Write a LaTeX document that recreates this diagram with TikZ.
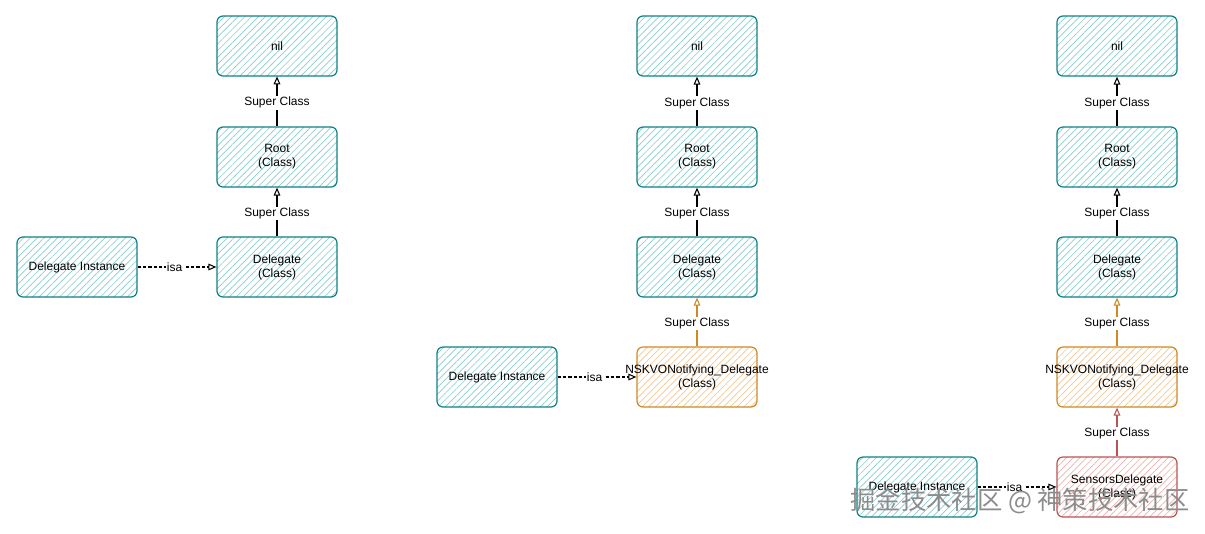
\documentclass[tikz,border=0pt]{standalone}
\usepackage{fontspec}
\setmainfont{Liberation Sans}
\newfontfamily\cjkfont{Noto Sans CJK SC}
\usetikzlibrary{patterns.meta}
\usetikzlibrary{arrows.meta}

\definecolor{tealline}{HTML}{0E8088}
\definecolor{tealhatch}{HTML}{86CDD1}
\definecolor{orangeline}{HTML}{CC8A24}
\definecolor{orangehatch}{HTML}{F3C690}
\definecolor{redline}{HTML}{B85450}
\definecolor{redhatch}{HTML}{EDB0AD}
\definecolor{markgray}{HTML}{8C8C8C}

\tikzset{
  classbox/.style={draw=tealline, line width=0.9pt, rounded corners=4.5pt,
    pattern={Lines[angle=45,distance=3.6pt,line width=0.5pt]}, pattern color=tealhatch,
    minimum width=90pt, minimum height=45pt, inner sep=1pt, align=center,
    font=\fontsize{9}{10.5}\selectfont},
  kvobox/.style={classbox, draw=orangeline, pattern color=orangehatch},
  sensorbox/.style={classbox, draw=redline, pattern color=redhatch},
  superarrow/.style={-{Triangle[open,length=6pt,width=5pt]}, line width=0.8pt},
  isaarrow/.style={superarrow, dash pattern=on 2.5pt off 1.5pt},
  edgelabel/.style={fill=white, inner sep=1pt, pos=0.47, font=\fontsize{9}{10.5}\selectfont}
}

\begin{document}
\begin{tikzpicture}[x=0.75pt,y=0.75pt,yscale=-1,xscale=1]
\useasboundingbox (0,0) rectangle (1205,533);

%Column 1
\node[classbox] (nilA) at (277,46) {nil};
\node[classbox] (rootA) at (277,157) {Root\\(Class)};
\node[classbox] (delA) at (277,267) {Delegate\\(Class)};
\node[classbox] (instA) at (77,267) {Delegate Instance};
\draw[superarrow] (rootA) -- node[edgelabel] {Super Class} (nilA);
\draw[superarrow] (delA) -- node[edgelabel] {Super Class} (rootA);
\draw[isaarrow] (instA) -- node[edgelabel] {isa} (delA);

%Column 2
\node[classbox] (nilB) at (697,46) {nil};
\node[classbox] (rootB) at (697,157) {Root\\(Class)};
\node[classbox] (delB) at (697,267) {Delegate\\(Class)};
\node[kvobox] (kvoB) at (697,377) {\makebox[0pt]{NSKVONotifying\_Delegate}\\(Class)};
\node[classbox] (instB) at (497,377) {Delegate Instance};
\draw[superarrow] (rootB) -- node[edgelabel] {Super Class} (nilB);
\draw[superarrow] (delB) -- node[edgelabel] {Super Class} (rootB);
\draw[superarrow, orangeline] (kvoB) -- node[edgelabel, text=black] {Super Class} (delB);
\draw[isaarrow] (instB) -- node[edgelabel] {isa} (kvoB);

%Column 3
\node[classbox] (nilC) at (1117,46) {nil};
\node[classbox] (rootC) at (1117,157) {Root\\(Class)};
\node[classbox] (delC) at (1117,267) {Delegate\\(Class)};
\node[kvobox] (kvoC) at (1117,377) {\makebox[0pt]{NSKVONotifying\_Delegate}\\(Class)};
\node[sensorbox] (sensC) at (1117,487) {SensorsDelegate\\(Class)};
\node[classbox] (instC) at (917,487) {Delegate Instance};
\draw[superarrow] (rootC) -- node[edgelabel] {Super Class} (nilC);
\draw[superarrow] (delC) -- node[edgelabel] {Super Class} (rootC);
\draw[superarrow, orangeline] (kvoC) -- node[edgelabel, text=black] {Super Class} (delC);
\draw[superarrow, redline] (sensC) -- node[edgelabel, text=black] {Super Class} (kvoC);
\draw[isaarrow] (instC) -- node[edgelabel] {isa} (sensC);

%Watermark
\node[text=markgray, font=\cjkfont\fontsize{19}{19}\selectfont] (mark) at (1020,501) {掘金技术社区 @ 神策技术社区};
\end{tikzpicture}
\end{document}
